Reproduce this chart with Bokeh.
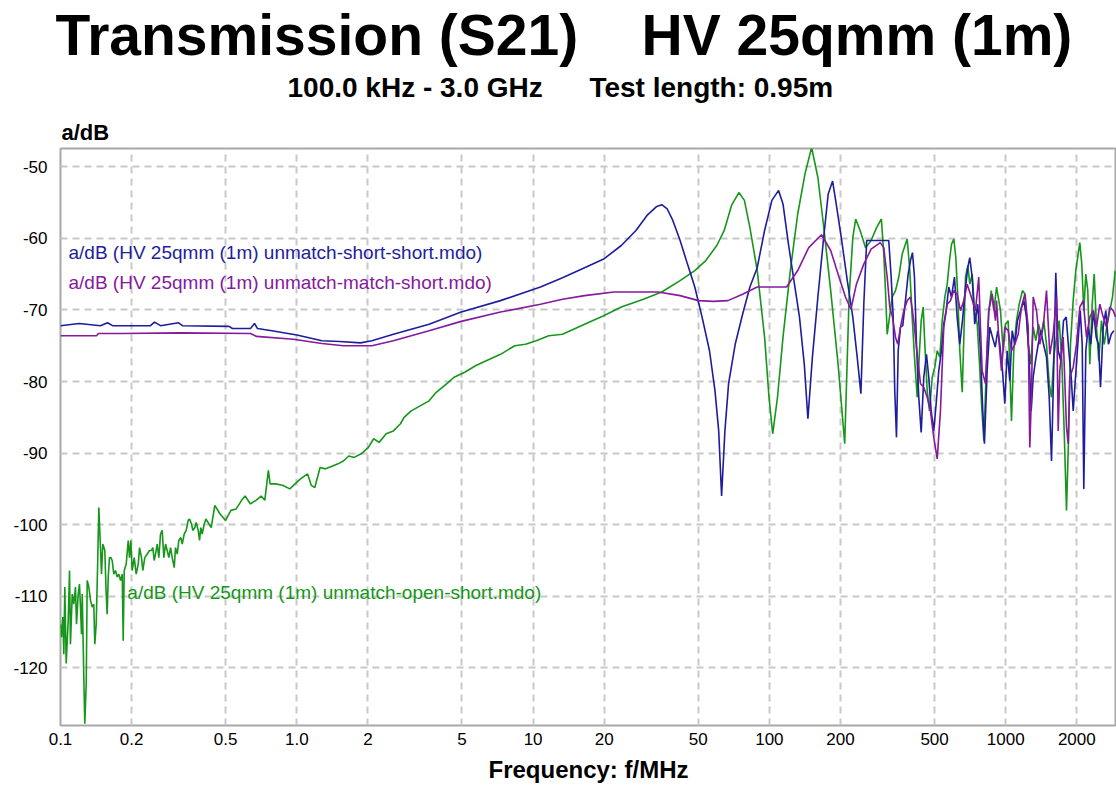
from bokeh.plotting import figure
from bokeh.models import Range1d, FixedTicker, Label, Title
from bokeh.embed import file_html
from bokeh.resources import INLINE

# ---------------- data (frequency in MHz, attenuation a in dB) ----------------
short_short = [
    (0.1, -72.2), (0.1199, -71.9), (0.1477, -72.2), (0.1581, -71.8), (0.1660, -72.2),
    (0.2403, -72.2), (0.2498, -71.7), (0.2650, -72.2), (0.3158, -71.8), (0.3283, -72.2),
    (0.5169, -72.3), (0.5342, -72.6), (0.6369, -72.6), (0.6622, -71.9), (0.6819, -72.6),
    (0.7845, -72.9), (1.001, -73.5), (1.2769, -74.3), (1.5204, -74.4), (1.8603, -74.6),
    (2.0790, -74.3), (2.5634, -73.4), (3.6297, -72.0), (4.9628, -70.3), (7.2783, -68.7),
    (10.747, -66.8), (13.318, -65.5), (16.516, -64.1), (19.892, -62.9), (23.616, -61.0),
    (27.250, -58.9), (30.345, -56.8), (33.195, -55.6), (35.020, -55.3), (36.947, -55.9),
    (39.020, -57.5), (41.896, -60.3), (45.02, -63.6), (48.337, -66.8), (51.90, -71.0),
    (55.79, -75.7), (58.86, -81.3), (61.02, -86.9), (62.77, -96.0), (64.82, -86.9),
    (67.19, -80.3), (71.66, -74.8), (77.02, -70.6), (82.70, -66.8), (88.81, -64.1),
    (95.43, -58.9), (102.47, -54.7), (109.38, -53.3), (114.18, -55.2), (120.40, -60.8),
    (127.04, -65.9), (134.07, -71.0), (140.52, -77.6), (145.54, -85.2), (152.05, -76.6),
    (160.40, -68.2), (169.24, -60.3), (177.35, -53.8), (185.13, -52.0), (191.74, -55.2),
    (202.30, -60.3), (213.65, -65.9), (225.42, -71.0), (235.28, -76.6), (243.93, -81.7),
    (250.92, -69.2), (258.1, -60.3), (320.0, -60.3), (327.6, -65.4), (334.1, -71.0),
    (339.3, -81.3), (345.0, -87.8), (350.8, -75.7), (358.7, -72.4), (366.8, -72.2),
    (376.6, -68.7), (386.6, -65.0), (395.4, -63.1), (403.2, -62.0), (411.1, -65.4),
    (419.2, -74.8), (428.7, -82.2), (438.9, -87.1), (450.1, -79.4), (462.1, -76.2),
    (472.6, -79.4), (483.7, -84.1), (496.1, -86.9), (507.9, -83.1), (520.9, -78.5),
    (534.8, -75.7), (546.9, -72.0), (559.8, -70.1), (574.2, -66.8), (589.5, -68.2),
    (607.0, -65.4), (623.2, -71.0), (639.1, -74.8), (656.2, -71.5), (673.7, -67.3),
    (691.0, -64.1), (704.6, -62.7), (721.2, -65.4), (739.7, -72.0), (761.7, -69.2),
    (782.0, -75.7), (799.7, -84.1), (813.0, -88.7), (834.7, -78.5), (856.1, -72.4),
    (878.9, -73.8), (902.9, -75.2), (926.0, -72.9), (944.1, -74.8), (969.3, -78.5),
    (991.3, -83.1), (1014.7, -75.7), (1040.8, -79.9), (1065.4, -72.9), (1092.7, -74.8),
    (1121.8, -71.5), (1155.1, -70.1), (1192.9, -68.7), (1224.7, -71.0), (1252.4, -75.7),
    (1282.1, -84.1), (1307.3, -79.4), (1336.9, -77.1), (1372.6, -74.8), (1407.8, -72.9),
    (1445.4, -74.8), (1488.4, -76.6), (1528.1, -82.2), (1562.7, -91.1), (1593.5, -79.4),
    (1629.6, -64.8), (1668.1, -75.7), (1710.9, -77.1), (1756.5, -71.5), (1803.4, -71.0),
    (1849.6, -75.7), (1893.4, -79.4), (1930.7, -84.1), (1974.5, -79.4), (2019.2, -74.8),
    (2067.0, -70.1), (2107.7, -74.8), (2140.8, -95.0), (2183.0, -75.7), (2234.6, -72.4),
    (2292.0, -74.8), (2353.0, -70.1), (2415.8, -73.8), (2470.5, -74.8), (2519.2, -80.8),
    (2586.3, -72.4), (2652.7, -70.1), (2723.4, -74.8), (2796.0, -73.4), (2867.7, -72.9),
]

match_short = [
    (0.1, -73.6), (0.1420, -73.6), (0.1448, -73.3), (0.1812, -73.3), (0.3220, -73.2),
    (0.6369, -73.3), (0.6752, -73.7), (0.9674, -74.1), (1.2769, -74.7), (1.5751, -75.0),
    (2.0790, -75.0), (2.5634, -74.3), (3.6297, -72.9), (4.9628, -71.6), (7.2783, -70.3),
    (10.747, -69.2), (13.318, -68.5), (16.516, -68.0), (22.00, -67.5), (33.81, -67.5),
    (41.896, -68.0), (50.12, -68.7), (57.84, -68.8), (66.75, -68.7), (77.02, -67.8),
    (88.81, -66.8), (118.2, -66.8), (131.78, -64.5), (146.7, -61.3), (166.1, -59.5),
    (181.73, -61.7), (195.35, -65.0), (209.9, -68.2), (221.3, -69.9), (233.5, -66.4),
    (250.9, -63.6), (269.4, -61.5), (294.6, -60.6), (304.8, -61.3), (315.1, -65.4),
    (323.2, -69.6), (331.8, -71.0), (341.7, -73.8), (349.4, -74.8), (358.7, -72.4),
    (370.4, -70.1), (383.0, -68.7), (395.4, -68.2), (408.3, -71.5), (422.2, -76.2),
    (435.9, -80.3), (450.1, -80.8), (465.5, -82.2), (480.4, -84.1), (496.1, -87.8),
    (513.1, -90.8), (529.6, -84.1), (546.9, -72.4), (565.6, -69.2), (583.8, -68.7),
    (603.3, -67.3), (623.2, -67.8), (643.5, -70.1), (665.0, -68.7), (686.9, -66.4),
    (709.4, -67.8), (744.8, -70.1), (769.1, -65.4), (782.0, -72.4), (795.0, -78.5),
    (821.0, -80.3), (847.8, -70.1), (876.8, -67.8), (905.5, -71.5), (914.4, -68.7),
    (938.6, -74.8), (959.9, -78.5), (991.3, -72.4), (1024.7, -72.9), (1058.1, -75.7),
    (1092.7, -74.8), (1129.5, -73.4), (1166.4, -69.6), (1204.6, -67.8), (1245.1, -72.4),
    (1264.7, -89.2), (1285.9, -81.7), (1307.3, -68.2), (1350.1, -70.1), (1394.2, -74.8),
    (1441.1, -72.4), (1488.4, -67.3), (1537.1, -76.2), (1588.9, -73.4), (1640.7, -68.2),
    (1668.1, -86.9), (1694.4, -78.5), (1751.4, -73.8), (1808.7, -86.4), (1838.9, -88.7),
    (1867.8, -79.4), (1930.7, -78.0), (1993.8, -74.8), (2058.9, -69.6), (2128.3, -68.7),
    (2197.9, -73.8), (2269.8, -71.0), (2346.2, -70.1), (2422.9, -72.4), (2502.1, -69.2),
    (2586.3, -71.0), (2670.9, -72.4), (2758.1, -69.6), (2850.0, -70.1), (2923.1, -71.0),
]

open_short = [
    (0.1000, -113.9), (0.1010, -115.7), (0.1023, -112.9), (0.1033, -118.1), (0.1043, -108.7),
    (0.1057, -119.4), (0.1078, -113.4), (0.1092, -106.4), (0.1102, -116.7), (0.1121, -109.7),
    (0.1138, -111.1), (0.1157, -108.7), (0.1169, -113.9), (0.1188, -109.7), (0.1203, -108.3),
    (0.1215, -111.5), (0.1227, -115.3), (0.1236, -109.7), (0.1255, -121.3), (0.1267, -127.8),
    (0.1285, -122.2), (0.1297, -107.8), (0.1318, -108.7), (0.1340, -110.6), (0.1362, -111.5),
    (0.1383, -111.1), (0.1397, -116.7), (0.1416, -113.9), (0.1434, -106.4), (0.1453, -97.6),
    (0.1472, -102.2), (0.1491, -106.9), (0.1510, -102.7), (0.1540, -103.6), (0.1561, -109.7),
    (0.1576, -112.5), (0.1592, -107.3), (0.1612, -104.6), (0.1633, -104.6), (0.1655, -105.0),
    (0.1681, -106.9), (0.1709, -106.4), (0.1738, -107.3), (0.1765, -106.9), (0.1795, -107.8),
    (0.1825, -106.9), (0.1842, -116.2), (0.1861, -106.4), (0.1897, -105.5), (0.1935, -102.2),
    (0.1959, -104.6), (0.1984, -102.2), (0.2011, -106.4), (0.2051, -104.6), (0.2091, -106.9),
    (0.2133, -105.5), (0.2160, -103.2), (0.2202, -104.6), (0.2230, -106.4), (0.2274, -104.6),
    (0.2328, -104.1), (0.2381, -103.6), (0.2428, -103.6), (0.2459, -103.2), (0.2492, -105.0),
    (0.2524, -104.1), (0.2566, -102.7), (0.2607, -104.6), (0.2650, -101.3), (0.2694, -100.8),
    (0.2737, -104.6), (0.2783, -102.7), (0.2829, -103.6), (0.2874, -104.6), (0.2922, -103.2),
    (0.2970, -104.6), (0.3029, -106.0), (0.3067, -103.2), (0.3119, -104.1), (0.3168, -102.2),
    (0.3230, -101.8), (0.3274, -102.7), (0.3339, -101.3), (0.3404, -100.8), (0.3471, -99.4),
    (0.3516, -99.2), (0.3585, -99.9), (0.3631, -100.8), (0.3702, -100.4), (0.3753, -99.7),
    (0.3827, -100.8), (0.3876, -102.2), (0.3925, -100.4), (0.3979, -101.3), (0.4057, -99.9),
    (0.4124, -99.2), (0.4343, -100.4), (0.4497, -97.3), (0.4736, -98.5), (0.4993, -99.4),
    (0.5262, -98.0), (0.5540, -97.8), (0.5840, -96.6), (0.6042, -96.0), (0.6369, -97.1),
    (0.6713, -96.6), (0.7068, -96.0), (0.7320, -96.6), (0.7582, -92.4), (0.7709, -94.3),
    (0.8126, -94.3), (0.8706, -94.5), (0.9341, -95.0), (0.9836, -94.3), (1.0367, -93.6),
    (1.1110, -92.9), (1.1507, -94.5), (1.1918, -94.8), (1.2549, -92.0), (1.3228, -92.2),
    (1.4176, -91.8), (1.4942, -91.5), (1.5751, -91.1), (1.6585, -90.4), (1.7481, -90.6),
    (1.8730, -90.1), (2.0091, -89.2), (2.1157, -88.0), (2.2299, -88.5), (2.3893, -87.3),
    (2.5634, -86.9), (2.7467, -85.9), (2.8447, -85.0), (3.0490, -84.1), (3.3254, -83.4),
    (3.6297, -82.7), (3.8898, -81.5), (4.3170, -80.3), (4.6301, -79.4), (5.1390, -78.7),
    (5.7043, -77.8), (6.3323, -77.1), (7.2783, -76.2), (8.3665, -75.0), (9.2870, -74.8),
    (10.307, -74.3), (11.644, -73.6), (13.318, -73.4), (16.516, -72.0), (19.892, -70.8),
    (23.616, -69.6), (29.302, -68.5), (35.020, -67.5), (41.896, -65.9), (48.337, -64.5),
    (53.808, -63.1), (59.903, -61.0), (64.384, -58.9), (69.133, -55.4), (74.293, -53.6),
    (78.383, -54.7), (82.700, -58.5), (88.810, -64.5), (95.430, -73.8), (99.612, -82.2),
    (103.27, -87.3), (108.22, -82.2), (114.18, -73.8), (122.62, -64.5), (131.78, -56.6),
    (141.48, -51.0), (150.87, -47.3), (160.40, -51.5), (169.24, -58.0), (181.73, -67.3),
    (195.35, -77.6), (208.31, -88.7), (217.44, -68.2), (225.42, -59.9), (231.87, -57.3),
    (242.03, -58.9), (255.37, -61.3), (269.39, -60.3), (284.22, -58.5), (297.82, -57.3),
    (304.87, -62.2), (309.96, -67.3), (315.14, -73.4), (322.28, -71.0), (330.86, -68.2),
    (341.7, -67.3), (352.9, -65.4), (364.8, -62.2), (376.7, -60.8), (383.0, -60.1),
    (392.8, -64.5), (402.1, -71.0), (411.2, -76.6), (422.2, -82.2), (431.8, -75.7),
    (439.0, -71.5), (447.6, -69.6), (454.7, -74.8), (465.5, -81.3), (476.0, -84.1),
    (488.7, -79.4), (501.2, -78.0), (513.1, -75.7), (526.2, -76.6), (538.7, -71.5),
    (552.6, -68.2), (565.6, -66.4), (578.5, -63.1), (589.9, -60.8), (603.3, -60.1),
    (615.1, -62.7), (627.2, -68.2), (639.5, -75.7), (654.7, -81.5), (665.0, -73.8),
    (676.1, -65.4), (691.4, -63.8), (705.0, -66.4), (721.7, -65.0), (738.1, -70.1),
    (757.7, -72.0), (775.0, -77.6), (790.3, -83.1), (808.2, -88.3), (827.4, -78.5),
    (848.6, -70.1), (868.7, -67.3), (891.0, -70.1), (914.8, -66.8), (930.0, -68.2),
    (950.6, -70.1), (975.9, -75.7), (998.0, -72.0), (1024.7, -71.5), (1058.2, -85.5),
    (1082.2, -75.7), (1111.0, -71.5), (1140.6, -69.2), (1177.9, -67.3), (1209.3, -67.8),
    (1245.2, -74.8), (1277.1, -77.6), (1307.4, -72.4), (1340.9, -74.3), (1376.6, -72.0),
    (1413.3, -73.4), (1449.6, -71.5), (1488.2, -74.8), (1527.9, -80.3), (1562.5, -82.2),
    (1597.9, -76.6), (1640.5, -73.8), (1684.3, -71.5), (1727.5, -77.1), (1768.4, -86.9),
    (1808.4, -98.0), (1844.0, -88.3), (1880.3, -74.8), (1930.4, -68.7), (1979.9, -64.5),
    (2026.8, -62.2), (2058.7, -60.6), (2099.2, -63.6), (2140.5, -70.1), (2182.7, -65.0),
    (2225.6, -67.3), (2269.4, -77.6), (2323.1, -69.2), (2368.8, -65.0), (2422.5, -72.4),
    (2477.4, -77.1), (2543.4, -71.5), (2611.2, -74.8), (2678.2, -72.4), (2757.6, -70.1),
    (2831.2, -68.2), (2906.6, -64.5),
]

x_ticks = [0.1, 0.2, 0.5, 1, 2, 5, 10, 20, 50, 100, 200, 500, 1000, 2000]
x_tick_labels = ["0.1", "0.2", "0.5", "1.0", "2", "5", "10", "20", "50",
                 "100", "200", "500", "1000", "2000"]
y_ticks = [-120, -110, -100, -90, -80, -70, -60, -50]
y_tick_labels = ["-120", "-110", "-100", "-90", "-80", "-70", "-60", "-50"]

series_names = [
    "a/dB (HV 25qmm (1m) unmatch-short-short.mdo)",
    "a/dB (HV 25qmm (1m) unmatch-match-short.mdo)",
    "a/dB (HV 25qmm (1m) unmatch-open-short.mdo)",
]
NB = "\u00a0"  # non-breaking spaces keep the wide gaps of the original headings
main_title = "Transmission (S21)" + NB * 3 + " HV 25qmm (1m)"
sub_title = "100.0 kHz - 3.0 GHz" + NB * 5 + " Test length: 0.95m"
y_caption = "a/dB"
x_caption = "Frequency: f/MHz"

# ---------------- styling ----------------
FONT = "Liberation Sans"
BLUE = "#1e1e9c"
PURPLE = "#86199c"
GREEN = "#16961a"
GRID = "#c8c8c8"

p = figure(width=1116, height=785, x_axis_type="log",
           x_range=Range1d(0.1, 2944), y_range=Range1d(-128.05, -47.45),
           output_backend="svg", toolbar_location=None,
           min_border_left=60, min_border_right=0,
           min_border_top=148, min_border_bottom=60)
p.background_fill_color = "white"
p.border_fill_color = "white"
p.outline_line_color = "#a8a8a8"
p.outline_line_width = 2

p.xaxis.ticker = FixedTicker(ticks=x_ticks)
p.xaxis.major_label_overrides = dict(zip(x_ticks, x_tick_labels))
p.yaxis.ticker = FixedTicker(ticks=y_ticks)
p.yaxis.major_label_overrides = dict(zip(y_ticks, y_tick_labels))
p.xgrid.ticker = FixedTicker(ticks=x_ticks)
p.ygrid.ticker = FixedTicker(ticks=y_ticks)

for ax in (p.xaxis, p.yaxis):
    ax.axis_line_color = None
    ax.major_tick_line_color = None
    ax.minor_tick_line_color = None
    ax.major_tick_out = 0
    ax.major_tick_in = 0
    ax.minor_tick_out = 0
    ax.minor_tick_in = 0
    ax.major_label_text_font = FONT
    ax.major_label_text_font_size = "17px"
    ax.major_label_text_color = "black"
p.xaxis.major_label_standoff = 7
p.yaxis.major_label_standoff = 13

p.xaxis.axis_label = x_caption
p.xaxis.axis_label_text_font = FONT
p.xaxis.axis_label_text_font_size = "24px"
p.xaxis.axis_label_text_font_style = "bold"
p.xaxis.axis_label_text_color = "black"
p.xaxis.axis_label_standoff = 8

for g in (p.xgrid, p.ygrid):
    g.grid_line_color = GRID
    g.grid_line_width = 2
    g.grid_line_dash = "7 5"

def unzip(pts):
    return [a for a, _ in pts], [b for _, b in pts]

gf, gd = unzip(open_short)
bf, bd = unzip(short_short)
pf, pd = unzip(match_short)
p.line(gf, gd, line_color=GREEN, line_width=1.6)
p.line(bf, bd, line_color=BLUE, line_width=1.6)
p.line(pf, pd, line_color=PURPLE, line_width=1.6)

def add_text(x, y, text, size, color):
    p.add_layout(Label(x=x, y=y, text=text, text_font=FONT, text_font_size=size,
                       text_color=color, text_align="left",
                       text_baseline="alphabetic"))

# series labels inside the plot
add_text(0.1081, -61.94, series_names[0], "19px", BLUE)
add_text(0.1081, -66.15, series_names[1], "19px", PURPLE)
add_text(0.1918, -109.44, series_names[2], "19px", GREEN)

# title rows above the frame (first added sits nearest to the frame)
def add_title(text, size, offset, standoff):
    t = Title(text=text, align="left", offset=offset, text_font=FONT,
              text_font_size=size, text_font_style="bold", text_color="black")
    try:
        t.standoff = standoff
    except Exception:
        t.standoff = 0
    p.add_layout(t, "above")

add_title(y_caption, "22px", 1, 8)
add_title(sub_title, "28px", 227, 22)
add_title(main_title, "57px", -5, -16)

open("out.html", "w").write(file_html(p, INLINE))
